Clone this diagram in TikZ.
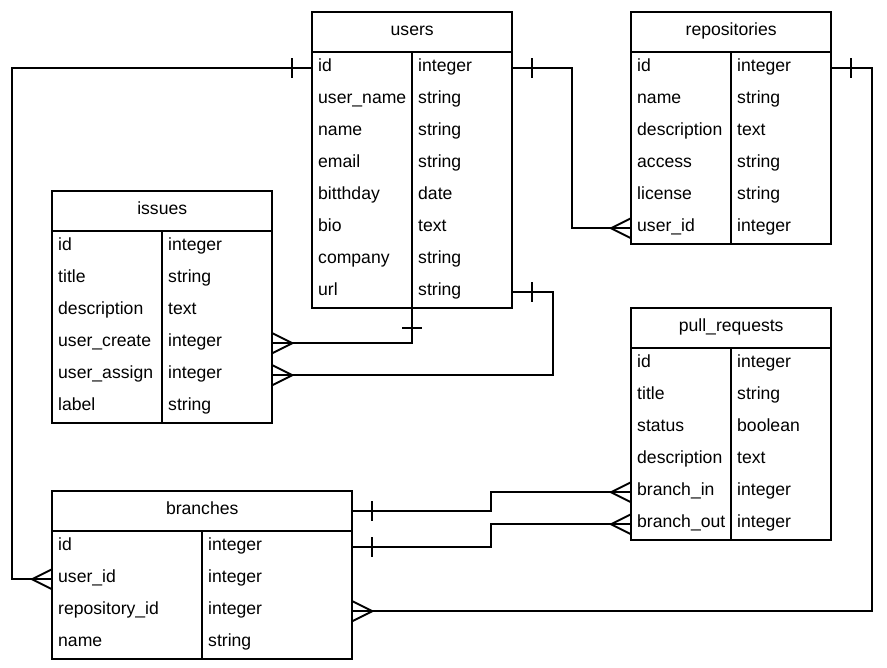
\documentclass[tikz,border=0pt]{standalone}
\usepackage{fontspec}
\setmainfont{Liberation Sans}
\usetikzlibrary{calc}

\tikzset{
  x=1pt, y=-1pt,
  frame/.style={draw=black, line width=1.9pt},
  conn/.style={draw=black, line width=1.9pt},
  rowbox/.style={draw=none, inner sep=0pt, minimum height=32pt},
  hdrbox/.style={draw=none, inner sep=0pt, minimum height=40pt},
  celltext/.style={inner sep=0pt, anchor=base west, font=\fontsize{17.6}{20}\selectfont},
  titletext/.style={inner sep=0pt, anchor=base, font=\fontsize{17.6}{20}\selectfont},
}

% \ertable{name}{title}{left}{top}{width}{divider offset}{number of rows}{field/type list}
\newcommand{\ertable}[8]{%
  \node[hdrbox, minimum width=#5pt, anchor=north west] (#1) at (#3,#4) {};
  \node[titletext] (#1-title) at ($(#1.center)+(0,3.2)$) {#2};
  \foreach [count=\i] \fname/\ftype in {#8} {
    \node[rowbox, minimum width=#5pt, anchor=north west] (#1-\i) at (#3,{#4+40+32*(\i-1)}) {};
    \node[celltext] (#1-\i-n) at ($(#1-\i.west)+(6,3.2)$) {\fname};
    \node[celltext] (#1-\i-t) at ($(#1-\i.west)+(#6+6,3.2)$) {\ftype};
  }
  \draw[frame] (#3,#4) rectangle ++(#5,{40+32*#7});
  \draw[frame] (#3,#4+40) -- ++(#5,0);
  \draw[frame] (#3+#6,#4+40) -- ++(0,{32*#7});
}

% one-end bar at a given offset along the connector
\newcommand{\onebar}[2]{\draw[conn] ([xshift=#2]#1) ++(0,-10) -- ++(0,20);}
% many-end crow's foot converging at a given offset
\newcommand{\crowfoot}[2]{\draw[conn] ([yshift=10pt]#1) -- ([xshift=#2]#1) -- ([yshift=-10pt]#1);}

\begin{document}
\begin{tikzpicture}
\useasboundingbox (0,0) rectangle (887,668);

\ertable{users}{users}{312}{12}{200}{100}{8}{%
  id/integer, user\_name/string, name/string, email/string,
  bitthday/date, bio/text, company/string, url/string}

\ertable{repos}{repositories}{631}{12}{200}{100}{6}{%
  id/integer, name/string, description/text, access/string,
  license/string, user\_id/integer}

\ertable{issues}{issues}{52}{191}{220}{110}{6}{%
  id/integer, title/string, description/text, user\_create/integer,
  user\_assign/integer, label/string}

\ertable{pulls}{pull\_requests}{631}{308}{200}{100}{6}{%
  id/integer, title/string, status/boolean, description/text,
  branch\_in/integer, branch\_out/integer}

\ertable{branches}{branches}{52}{491}{300}{150}{4}{%
  id/integer, user\_id/integer, repository\_id/integer, name/string}

% routing columns
\coordinate (cLeft) at (12,300);
\coordinate (cRepoUser) at (572,150);
\coordinate (cIssueAssign) at (553,330);
\coordinate (cRight) at (872,300);
\coordinate (cBranch) at (491,500);

% users.id -> branches.user_id
\draw[conn] (users-1.west) -- (users-1.west -| cLeft) |- (branches-2.west);
\onebar{users-1.west}{-20pt}
\crowfoot{branches-2.west}{-20pt}

% users.id -> repositories.user_id
\draw[conn] (users-1.east) -- (users-1.east -| cRepoUser) |- (repos-6.west);
\onebar{users-1.east}{20pt}
\crowfoot{repos-6.west}{-20pt}

% users -> issues.user_assign
\draw[conn] (users-8.east) -- (users-8.east -| cIssueAssign) |- (issues-5.east);
\onebar{users-8.east}{20pt}
\crowfoot{issues-5.east}{20pt}

% users -> issues.user_create
\draw[conn] (users-8.south) |- (issues-4.east);
\draw[conn] ([yshift=-20pt]users-8.south) ++(-10,0) -- ++(20,0);
\crowfoot{issues-4.east}{20pt}

% repositories.id -> branches.repository_id
\draw[conn] (repos-1.east) -- (repos-1.east -| cRight) |- (branches-3.east);
\onebar{repos-1.east}{20pt}
\crowfoot{branches-3.east}{20pt}

% branches -> pull_requests.branch_in
\draw[conn] (branches.east) -- (branches.east -| cBranch) |- (pulls-5.west);
\onebar{branches.east}{20pt}
\crowfoot{pulls-5.west}{-20pt}

% branches.id -> pull_requests.branch_out
\draw[conn] (branches-1.east) -- (branches-1.east -| cBranch) |- (pulls-6.west);
\onebar{branches-1.east}{20pt}
\crowfoot{pulls-6.west}{-20pt}

\end{tikzpicture}
\end{document}
